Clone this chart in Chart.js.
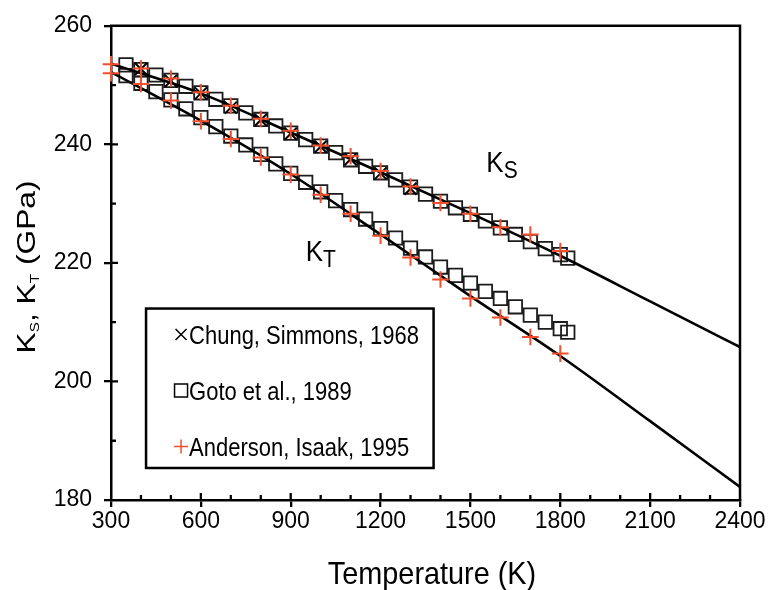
<!DOCTYPE html>
<html><head><meta charset="utf-8">
<script src="https://cdn.jsdelivr.net/npm/chart.js@4.4.1/dist/chart.umd.min.js"></script>
<style>html,body{margin:0;padding:0;background:#fff;}canvas{display:block;}</style>
</head><body>
<canvas id="c" width="768" height="590"></canvas>
<script>
// ---- data ----
const xTickValues = [300, 600, 900, 1200, 1500, 1800, 2100, 2400];
const yTickValues = [180, 200, 220, 240, 260];

// Chung, Simmons, 1968 (K_S)
const chungT  = [400, 500, 600, 700, 800, 900, 1000, 1100, 1200, 1300];
const chungKS = [252.7, 250.7, 248.6, 246.2, 244.1, 241.8, 239.6, 237.5, 235.1, 232.5];

// Goto et al., 1989
const gotoT  = [350, 400, 450, 500, 550, 600, 650, 700, 750, 800, 850, 900, 950, 1000, 1050, 1100,
                1150, 1200, 1250, 1300, 1350, 1400, 1450, 1500, 1550, 1600, 1650, 1700, 1750, 1800, 1825];
const gotoKS = [253.4, 252.6, 251.7, 250.8, 249.8, 248.7, 247.6, 246.5, 245.3, 244.2, 243.1, 241.9, 240.8, 239.7, 238.6, 237.4,
                236.3, 235.2, 234.0, 232.8, 231.6, 230.4, 229.3, 228.2, 227.1, 225.9, 224.8, 223.6, 222.4, 221.4, 220.8];
const gotoKT = [251.6, 250.3, 248.9, 247.5, 246.0, 244.5, 243.0, 241.4, 239.9, 238.3, 236.7, 235.1, 233.6, 232.0, 230.5, 229.0,
                227.4, 225.8, 224.2, 222.5, 221.0, 219.3, 217.9, 216.6, 215.2, 214.0, 212.6, 211.2, 210.0, 208.9, 208.3];

// Anderson, Isaak, 1995
const andersonT  = [300, 400, 500, 600, 700, 800, 900, 1000, 1100, 1200, 1300, 1400, 1500, 1600, 1700, 1800];
const andersonKS = [253.5, 252.8, 251.1, 248.8, 246.5, 244.3, 242.3, 239.8, 238.0, 235.5, 232.9, 230.1, 228.3, 226.0, 224.8, 222.0];
const andersonKT = [252.0, 250.2, 247.4, 243.9, 240.9, 237.8, 234.9, 231.5, 228.3, 224.6, 220.9, 217.2, 214.0, 210.8, 207.5, 204.7];

// solid model curves
const curveT  = [300, 600, 900, 1200, 1500, 1800, 2100, 2400];
const curveKS = [253.6, 248.6, 242.0, 235.3, 228.4, 221.2, 213.5, 205.8];
const curveKT = [252.2, 244.0, 235.0, 224.8, 214.4, 204.3, 193.3, 182.2];

const legendEntries = ['Chung, Simmons, 1968', 'Goto et al., 1989', 'Anderson, Isaak, 1995'];

// ---- chart ----
const FONT = '"Liberation Sans", Arial, Helvetica, sans-serif';
const RED = '#f0502d';
Chart.defaults.font.family = FONT;
Chart.defaults.color = '#000';

const pts = (xs, ys) => xs.map((t, i) => ({x: t, y: ys[i]}));

function richText(ctx, parts, x, y, scaleAlong, scaleAcross, center) {
  ctx.save();
  ctx.translate(x, y);
  let w = 0;
  for (const p of parts) { ctx.font = p.size + 'px ' + FONT; w += ctx.measureText(p.t).width; }
  ctx.scale(scaleAlong, scaleAcross);
  let cx = center ? -w / 2 : 0;
  ctx.textBaseline = 'alphabetic';
  ctx.textAlign = 'left';
  for (const p of parts) {
    ctx.font = p.size + 'px ' + FONT;
    ctx.fillText(p.t, cx, (p.dy || 0) / scaleAcross);
    cx += ctx.measureText(p.t).width;
  }
  ctx.restore();
  return w;
}

const decorations = {
  id: 'decorations',
  afterDraw(chart) {
    const {ctx, chartArea: a, scales: {x, y}} = chart;
    ctx.save();
    ctx.strokeStyle = '#000';
    ctx.fillStyle = '#000';
    // frame top & right
    ctx.lineWidth = 2.5;
    ctx.beginPath();
    ctx.moveTo(a.left - 1, a.top); ctx.lineTo(a.right, a.top); ctx.lineTo(a.right, a.bottom + 1);
    ctx.stroke();
    // inner tick parts
    ctx.lineWidth = 2.3;
    ctx.beginPath();
    for (let v = 400; v < 2400; v += 100) {
      const px = x.getPixelForValue(v);
      const len = (v % 300 === 0) ? 7 : 5;
      ctx.moveTo(px, a.bottom); ctx.lineTo(px, a.bottom - len);
    }
    for (let v = 190; v < 260; v += 10) {
      const py = y.getPixelForValue(v);
      const len = (v % 20 === 0) ? 7 : 5;
      ctx.moveTo(a.left, py); ctx.lineTo(a.left + len, py);
    }
    ctx.stroke();

    // y-axis title  K_S, K_T (GPa)
    ctx.save();
    ctx.translate(35, (a.top + a.bottom) / 2 + 4);
    ctx.rotate(-Math.PI / 2);
    const parts = [
      {t: 'K', size: 25}, {t: 'S', size: 12, dy: 4}, {t: ', K', size: 25},
      {t: 'T', size: 12, dy: 4}, {t: ' (GPa)', size: 25}
    ];
    let w = 0;
    for (const p of parts) { ctx.font = p.size + 'px ' + FONT; w += ctx.measureText(p.t).width; }
    richText(ctx, parts, 0, 0, 173 / w, 1, true);
    ctx.restore();

    // curve labels
    richText(ctx, [{t: 'K', size: 26}, {t: 'S', size: 21, dy: 6}],
      x.getPixelForValue(1553), y.getPixelForValue(235.4), 1, 1.12, false);
    richText(ctx, [{t: 'K', size: 26}, {t: 'T', size: 21, dy: 6}],
      x.getPixelForValue(950), y.getPixelForValue(220.4), 1, 1.12, false);

    // x-axis title
    ctx.fillStyle = '#000';
    const tw = richText(ctx, [{t: 'Temperature (K)', size: 28}], 0, -1000, 1, 1, false);
    richText(ctx, [{t: 'Temperature (K)', size: 28}], 432 - tw * 1.03 / 2, 584, 1.03, 1.12, false);

    // legend box
    const lx0 = x.getPixelForValue(417), lx1 = x.getPixelForValue(1377);
    const ly0 = y.getPixelForValue(212.3), ly1 = y.getPixelForValue(185.4);
    ctx.fillStyle = '#fff';
    ctx.fillRect(lx0, ly0, lx1 - lx0, ly1 - ly0);
    ctx.lineWidth = 2.5;
    ctx.strokeStyle = '#000';
    ctx.strokeRect(lx0, ly0, lx1 - lx0, ly1 - ly0);
    const rowOffsets = [26, 82, 138];
    const mx = lx0 + 35, tx = lx0 + 43;
    legendEntries.forEach((label, i) => {
      const cy = ly0 + rowOffsets[i];
      ctx.lineWidth = 1.5;
      ctx.beginPath();
      if (i === 0) {
        ctx.strokeStyle = '#000';
        ctx.moveTo(mx - 5.5, cy - 5.5); ctx.lineTo(mx + 5.5, cy + 5.5);
        ctx.moveTo(mx + 5.5, cy - 5.5); ctx.lineTo(mx - 5.5, cy + 5.5);
      } else if (i === 1) {
        ctx.strokeStyle = '#000';
        ctx.rect(mx - 6.5, cy - 6.5, 13, 13);
      } else {
        ctx.strokeStyle = RED;
        ctx.moveTo(mx - 7, cy); ctx.lineTo(mx + 7, cy);
        ctx.moveTo(mx, cy - 7); ctx.lineTo(mx, cy + 7);
      }
      ctx.stroke();
      ctx.fillStyle = '#000';
      richText(ctx, [{t: label, size: 22}], tx, cy + 9, 1, 1.15, false);
    });
    ctx.restore();
  }
};

const pointCommon = {showLine: false, clip: false, pointHoverRadius: 0};

new Chart(document.getElementById('c'), {
  type: 'scatter',
  data: {
    datasets: [
      Object.assign({label: legendEntries[2] + ' KS', data: pts(andersonT, andersonKS), pointStyle: 'cross',
        pointRadius: 8.3, pointBorderWidth: 2, borderColor: RED, pointBorderColor: RED, backgroundColor: RED}, pointCommon),
      Object.assign({label: legendEntries[2] + ' KT', data: pts(andersonT, andersonKT), pointStyle: 'cross',
        pointRadius: 8.3, pointBorderWidth: 2, borderColor: RED, pointBorderColor: RED, backgroundColor: RED}, pointCommon),
      Object.assign({label: legendEntries[0], data: pts(chungT, chungKS), pointStyle: 'crossRot',
        pointRadius: 8.5, pointBorderWidth: 2, borderColor: '#000', pointBorderColor: '#000', backgroundColor: '#000'}, pointCommon),
      {label: 'KS', data: pts(curveT, curveKS), showLine: true, pointRadius: 0, borderColor: '#000',
        borderWidth: 2.6, cubicInterpolationMode: 'monotone', fill: false},
      {label: 'KT', data: pts(curveT, curveKT), showLine: true, pointRadius: 0, borderColor: '#000',
        borderWidth: 2.6, cubicInterpolationMode: 'monotone', fill: false},
      Object.assign({label: legendEntries[1] + ' KS', data: pts(gotoT, gotoKS), pointStyle: 'rect',
        pointRadius: 9.5, pointBorderWidth: 1.8, borderColor: '#1c1c1c', pointBorderColor: '#1c1c1c',
        backgroundColor: 'rgba(0,0,0,0)', pointBackgroundColor: 'rgba(0,0,0,0)'}, pointCommon),
      Object.assign({label: legendEntries[1] + ' KT', data: pts(gotoT, gotoKT), pointStyle: 'rect',
        pointRadius: 9.5, pointBorderWidth: 1.8, borderColor: '#1c1c1c', pointBorderColor: '#1c1c1c',
        backgroundColor: 'rgba(0,0,0,0)', pointBackgroundColor: 'rgba(0,0,0,0)'}, pointCommon)
    ]
  },
  options: {
    responsive: false,
    animation: false,
    devicePixelRatio: 1,
    layout: {padding: {top: 25, right: 28, left: 0, bottom: 0}},
    plugins: {legend: {display: false}, tooltip: {enabled: false}},
    events: [],
    scales: {
      x: {
        type: 'linear', min: 300, max: 2400,
        afterBuildTicks: s => { s.ticks = xTickValues.map(v => ({value: v})); },
        afterFit: s => { s.height = 90; },
        ticks: {font: {size: 23}, color: '#000', padding: 1, maxRotation: 0, autoSkip: false,
                callback: v => String(v)},
        grid: {drawOnChartArea: false, drawTicks: true, tickLength: 7, color: '#000', lineWidth: 2.3},
        border: {display: true, color: '#000', width: 2.5},
        title: {display: false}
      },
      y: {
        type: 'linear', min: 180, max: 260,
        afterBuildTicks: s => { s.ticks = yTickValues.map(v => ({value: v})); },
        afterFit: s => { s.width = 111; },
        ticks: {font: {size: 23}, color: '#000', padding: 12, autoSkip: false, callback: v => String(v)},
        grid: {drawOnChartArea: false, drawTicks: true, tickLength: 7, color: '#000', lineWidth: 2.3},
        border: {display: true, color: '#000', width: 2.5}
      }
    }
  },
  plugins: [decorations]
});
</script>
</body></html>
